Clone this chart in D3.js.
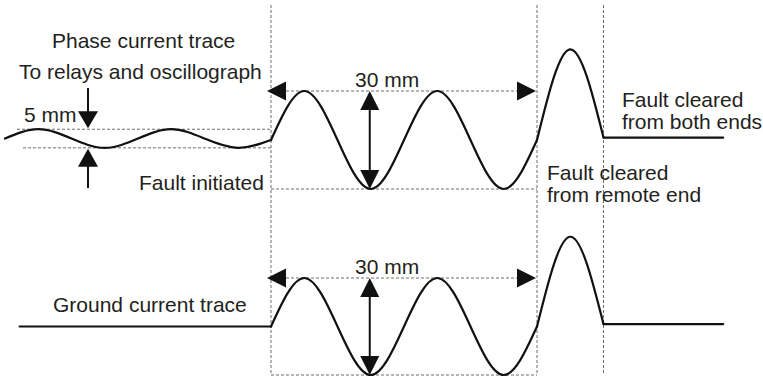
<!DOCTYPE html>
<html><head><meta charset="utf-8">
<script src="https://cdn.jsdelivr.net/npm/d3@7"></script>
<style>
body{margin:0;background:#fff}
svg{display:block}
text{font-family:"Liberation Sans",Arial,Helvetica,sans-serif;font-size:21px;fill:#231f20}
</style>
</head><body>
<svg id="c" width="763" height="379"></svg>
<script>
// ---- data (time in cycles, amplitude in units of the fault-current peak) ----
const preFaultT      = [0, 0.25, 0.5, 0.75, 1, 1.25, 1.5, 1.75, 2];
const preFaultPhase  = [0.03, 0.22, 0.03, -0.16, 0.03, 0.22, 0.03, -0.16, 0];
const faultT         = [2, 2.25, 2.5, 2.75, 3, 3.25, 3.5, 3.75, 4];
const faultValues    = [0, 1, 0, -1, 0, 1, 0, -1, 0];
const remoteT        = [4, 4.25, 4.5];
const remoteValues   = [0, 1.85, 0.05];
const clearedT       = [4.5, 5.4];
const clearedValues  = [0.05, 0.05];
const groundPreT     = [0.11, 2];
const groundPreValues= [0, 0];
const eventTimes     = [2, 4, 4.5];          // fault initiated, remote end cleared, both ends cleared
const bandLevels     = [0.22, -0.16];        // 5 mm pre-fault band
const bandStartT     = [0.09, 0.135];
const spanLabel      = "30 mm";
const bandLabel      = "5 mm";

const svg = d3.select("#c");
const x = d3.scaleLinear().domain([0, 4]).range([5, 537]);
const yPhase  = d3.scaleLinear().domain([-1, 1]).range([189, 91]);
const yGround = d3.scaleLinear().domain([-1, 1]).range([375, 278]);

const dashCol = "#6d6d6d";
function dashed(x1, y1, x2, y2) {
  svg.append("line").attr("x1", x1).attr("y1", y1).attr("x2", x2).attr("y2", y2)
    .attr("stroke", dashCol).attr("stroke-width", 1).attr("stroke-dasharray", "3,2");
}
function arrowHead(tx, ty, dir, len, hw) {
  // dir: 'l','r','u','d' = direction the tip points
  let pts;
  if (dir === 'l') pts = [[tx, ty], [tx + len, ty - hw], [tx + len, ty + hw]];
  if (dir === 'r') pts = [[tx, ty], [tx - len, ty - hw], [tx - len, ty + hw]];
  if (dir === 'u') pts = [[tx, ty], [tx - hw, ty + len], [tx + hw, ty + len]];
  if (dir === 'd') pts = [[tx, ty], [tx - hw, ty - len], [tx + hw, ty - len]];
  svg.append("path").attr("d", "M" + pts.map(p => p.join(",")).join("L") + "Z").attr("fill", "#111");
}

// vertical event lines
eventTimes.forEach(t => dashed(x(t), 5, x(t), yGround(-1)));

// pre-fault band lines
bandLevels.forEach((v, i) => dashed(x(bandStartT[i]), yPhase(v), x(eventTimes[0]), yPhase(v)));

// envelope lines of fault current (both traces)
[yPhase, yGround].forEach(y => {
  dashed(x(eventTimes[0]) + 15, y(1), x(eventTimes[1]) - 15, y(1));
  dashed(x(eventTimes[0]), y(-1), x(eventTimes[1]), y(-1));
  // horizontal span arrows
  arrowHead(x(eventTimes[0]) - 4, y(1), 'l', 19, 9.5);
  arrowHead(x(eventTimes[1]) - 1, y(1), 'r', 19, 9.5);
  // vertical peak-to-peak arrow at trough
  const xv = x(faultT[3]) - 1;
  svg.append("line").attr("x1", xv).attr("x2", xv).attr("y1", y(1) + 10).attr("y2", y(-1) - 10)
    .attr("stroke", "#111").attr("stroke-width", 2);
  arrowHead(xv, y(1), 'u', 19, 9.5);
  arrowHead(xv, y(-1), 'd', 19, 9.5);
  svg.append("text").attr("x", 355).attr("y", y(1) - 4).text(spanLabel);
});

// 5 mm arrows
const xb = 88;
svg.append("line").attr("x1", xb).attr("x2", xb).attr("y1", 88).attr("y2", yPhase(bandLevels[0]) - 8)
  .attr("stroke", "#111").attr("stroke-width", 2);
arrowHead(xb, yPhase(bandLevels[0]) - 1, 'd', 17, 10);
svg.append("line").attr("x1", xb).attr("x2", xb).attr("y1", yPhase(bandLevels[1]) + 8).attr("y2", 188)
  .attr("stroke", "#111").attr("stroke-width", 2);
arrowHead(xb, yPhase(bandLevels[1]) + 1, 'u', 18, 10);

// traces
function trace(ts, vs, y, curve) {
  const line = d3.line().x(d => x(d[0])).y(d => y(d[1])).curve(curve);
  svg.append("path").attr("d", line(ts.map((t, i) => [t, vs[i]])))
    .attr("fill", "none").attr("stroke", "#111").attr("stroke-width", 2.2)
    .attr("stroke-linejoin", "round").attr("stroke-linecap", "round");
}
trace(preFaultT, preFaultPhase, yPhase, d3.curveNatural);
trace(faultT, faultValues, yPhase, d3.curveNatural);
trace(remoteT, remoteValues, yPhase, d3.curveNatural);
trace(clearedT, clearedValues, yPhase, d3.curveLinear);

trace(groundPreT, groundPreValues, yGround, d3.curveLinear);
trace(faultT, faultValues, yGround, d3.curveNatural);
trace(remoteT, remoteValues, yGround, d3.curveNatural);
trace(clearedT, clearedValues, yGround, d3.curveLinear);

// labels
const texts = [
  ["Phase current trace", 52, 48],
  ["To relays and oscillograph", 19, 79],
  [bandLabel, 24, 122],
  ["Fault initiated", 139, 190],
  ["Fault cleared", 622, 107],
  ["from both ends", 622, 129],
  ["Fault cleared", 547, 180],
  ["from remote end", 547, 202],
  ["Ground current trace", 53, 312]
];
texts.forEach(([s, tx, ty]) => svg.append("text").attr("x", tx).attr("y", ty).text(s));
</script>
</body></html>
